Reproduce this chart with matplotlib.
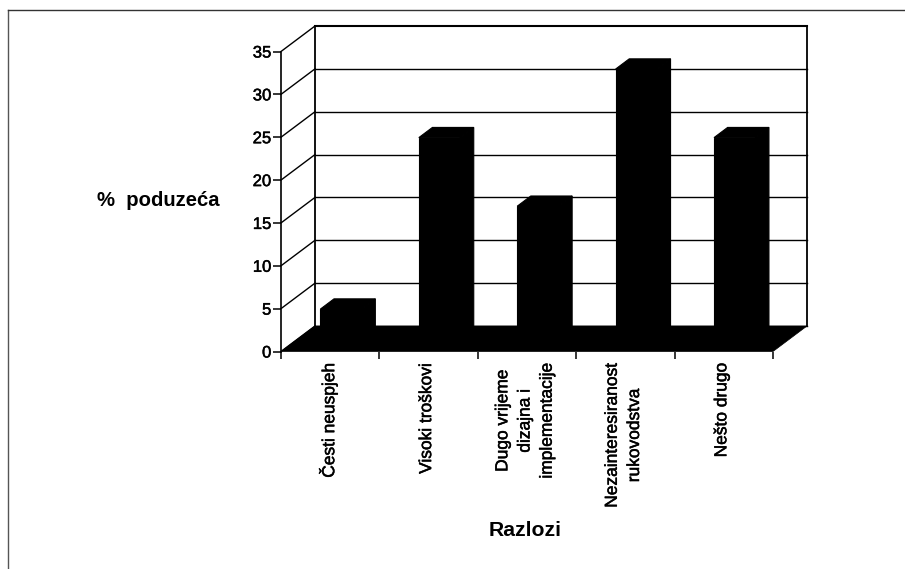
import matplotlib
matplotlib.use('Agg')
import matplotlib.pyplot as plt
import matplotlib.patheffects as pe
from matplotlib.transforms import ScaledTranslation

plt.rcParams['font.family'] = ['Liberation Sans', 'DejaVu Sans']

# values
categories = ['Česti neuspjeh', 'Visoki troškovi', 'Dugo vrijeme\ndizajna i\nimplementacije',
              'Nezainteresiranost\nrukovodstva', 'Nešto drugo']
values = [4, 24, 16, 32, 24]
y_ticks = [0, 5, 10, 15, 20, 25, 30, 35]

W, H = 905, 569
# front plane of the fake 3d box, in pixels
left, right, bottom, top = 281, 773, 351.5, 51.5
# depth of the box in data units
dx = 34 / 98.4
dy = 25.5 / (300 / 35)
bar_w = 0.42
f0, f1 = 0.32, 0.72

fig = plt.figure(figsize=(W / 100, H / 100), dpi=100)
ax = fig.add_axes([left / W, 1 - bottom / H, (right - left) / W, (bottom - top) / H])
ax.set_xlim(0, len(values))
ax.set_ylim(0, 35)
ax.patch.set_visible(False)
for s in ['top', 'right', 'bottom']:
    ax.spines[s].set_visible(False)
ax.spines['left'].set_linewidth(1.2)

# walls and gridlines
n = len(values)
for v in y_ticks:
    ax.plot([0, dx], [v, v + dy], color='black', lw=1.0, clip_on=False, zorder=1)
    ax.plot([dx, n + dx], [v + dy, v + dy], color='black', lw=1.5 if v == 35 else 1.0, clip_on=False, zorder=1)
ax.plot([dx, dx], [dy, 35 + dy], color='black', lw=1.3, clip_on=False, zorder=1)
ax.plot([n + dx, n + dx], [dy, 35 + dy], color='black', lw=1.3, clip_on=False, zorder=1)

# floor
ax.fill([0, n, n + dx, dx], [0, 0, dy, dy], color='black', lw=0.5, clip_on=False, zorder=2)

# bars: front face from the library, depth faces next to it
centres = [i + 0.5 for i in range(n)]
x0 = [c - bar_w / 2 + f0 * dx for c in centres]
ax.bar(x0, values, width=bar_w, bottom=f0 * dy, align='edge', color='black', edgecolor='black', lw=0.8,
       clip_on=False, zorder=3)
for x, v in zip(x0, values):
    ddx = (f1 - f0) * dx
    ddy = (f1 - f0) * dy
    y_f = v + f0 * dy
    ax.fill([x, x + bar_w, x + bar_w + ddx, x + ddx], [y_f, y_f, y_f + ddy, y_f + ddy],
            color='black', lw=0.8, clip_on=False, zorder=3)
    ax.fill([x + bar_w, x + bar_w + ddx, x + bar_w + ddx, x + bar_w],
            [f0 * dy, f1 * dy, y_f + ddy, y_f], color='black', lw=0.8, clip_on=False, zorder=3)

# axes ticks and labels
ax.set_yticks(y_ticks)
ax.tick_params(axis='y', length=6, width=1.1, labelsize=12, pad=1)
ax.set_xticks(range(n + 1))
ax.set_xticklabels([])
ax.tick_params(axis='x', which='major', length=5, width=1.1)
ax.set_xticks(centres, categories, minor=True, rotation=90, va='top', ha='center', multialignment='center',
              fontsize=12.5, linespacing=1.6)
ax.tick_params(axis='x', which='minor', length=0, pad=8)

# scanned text is a bit heavier than the plain font
heavy = [pe.withStroke(linewidth=0.35, foreground='black')]
shift = ScaledTranslation(-2 / 100, 0, fig.dpi_scale_trans)
for lbl in ax.get_xticklabels(minor=True):
    lbl.set_transform(lbl.get_transform() + shift)
    lbl.set_path_effects(heavy)
for lbl in ax.get_yticklabels():
    lbl.set_path_effects(heavy)

fig.text(525.5 / W, 1 - 530 / H, 'Razlozi', fontsize=15.2, fontweight='bold', ha='center', va='center')
fig.text(158.5 / W, 1 - 200 / H, '%  poduzeća', fontsize=14.6, fontweight='bold', ha='center', va='center')

# outer frame lines of the scan
fig.add_artist(plt.Line2D([8 / W, 8 / W], [1 - 9.5 / H, 0], color='#555555', lw=1.0))
fig.add_artist(plt.Line2D([8 / W, 1], [1 - 9.5 / H, 1 - 9.5 / H], color='#333333', lw=1.0))

fig.savefig('out.png', dpi=100)
